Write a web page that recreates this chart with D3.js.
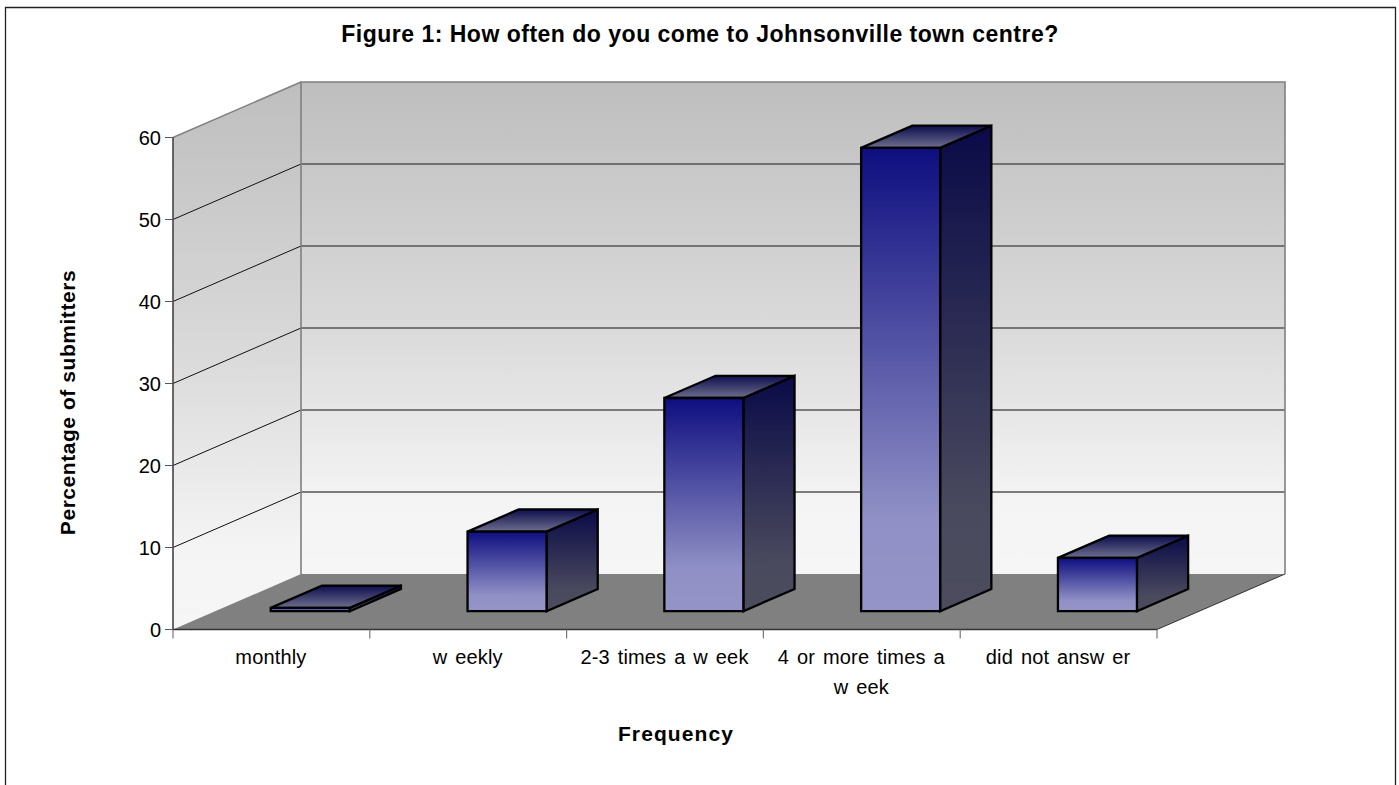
<!DOCTYPE html>
<html><head><meta charset="utf-8">
<script src="https://cdnjs.cloudflare.com/ajax/libs/d3/7.8.5/d3.min.js"></script>
<style>html,body{margin:0;padding:0;background:#fff;overflow:hidden}svg{display:block}text{font-family:"Liberation Sans",Arial,sans-serif;fill:#000}</style>
</head><body><script>
const categories = ["monthly","w eekly","2-3 times a w eek","4 or more times a|w eek","did not answ er"];
const seriesValues = [0.4, 9.7, 26, 56.5, 6.5];
const yTicks = [0,10,20,30,40,50,60];
const titleText = "Figure 1: How often do you come to Johnsonville town centre?";
const xTitleText = "Frequency";
const yTitleText = "Percentage of submitters";

const W=1399,H=785;
const svg=d3.select("body").append("svg").attr("width",W).attr("height",H);
const defs=svg.append("defs");
function grad(id,stops){
  const g=defs.append("linearGradient").attr("id",id).attr("x1",0).attr("y1",0).attr("x2",0).attr("y2",1);
  stops.forEach(s=>g.append("stop").attr("offset",s[0]).attr("stop-color",s[1]));
}
const wallStops=[[0,"#bebebe"],[0.5,"#dadada"],[0.85,"#f4f4f4"],[1,"#f6f6f6"]];
grad("wall",wallStops);
grad("front",[[0,"#0e0e80"],[0.8,"#9090c6"],[1,"#9494c8"]]);
grad("side",[[0,"#0a0a48"],[0.8,"#4a4a5e"],[1,"#4c4c5e"]]);
grad("topf",[[0,"#0e0e4e"],[1,"#6e6e8e"]]);

// scales: x across the front of the floor, y up the front, z into the depth
const x=d3.scaleBand().domain(categories).range([173,1157]);
const y=d3.scaleLinear().domain([0,60]).range([629.5,137.5]);
const zx=d3.scaleLinear().domain([0,1]).range([0,128]);
const zy=d3.scaleLinear().domain([0,1]).range([0,-55.5]);
const P=(px,py,z)=>[px+zx(z),py+zy(z)];
const line=d3.line();
const poly=pts=>line(pts)+"Z";
const x0=x.range()[0],x1=x.range()[1];

// border
svg.append("path").attr("d",`M5.5,${H+5}V7.5H1395.5V${H+5}`).attr("fill","none").attr("stroke","#222").attr("stroke-width",1.3);

// walls
svg.append("path").attr("d",poly([P(x0,y(60),1),P(x1,y(60),1),P(x1,y(0),1),P(x0,y(0),1)])).attr("fill","url(#wall)");
const sideWall=[P(x0,y(60),0),P(x0,y(60),1),P(x0,y(0),1),P(x0,y(0),0)];
const sg=defs.append("linearGradient").attr("id","wallSide").attr("gradientUnits","userSpaceOnUse")
  .attr("x1",0).attr("x2",0).attr("y1",P(x0,y(60),1)[1]).attr("y2",y(0));
wallStops.forEach(s=>sg.append("stop").attr("offset",s[0]).attr("stop-color",s[1]));
svg.append("path").attr("d",poly(sideWall)).attr("fill","url(#wallSide)");
svg.append("path").attr("d",poly([P(x0,y(0),0),P(x1,y(0),0),P(x1,y(0),1),P(x0,y(0),1)])).attr("fill","#808080");

// gridlines
yTicks.filter(v=>v>0&&v<60).forEach(v=>{
  svg.append("path").attr("d",line([P(x0,y(v),0),P(x0,y(v),1)])).attr("fill","none").attr("stroke","#111").attr("stroke-width",1);
  svg.append("path").attr("d",line([P(x0,y(v),1),P(x1,y(v),1)])).attr("fill","none").attr("stroke","#555").attr("stroke-width",1.5);
});
// wall outlines
svg.append("path").attr("d",line([P(x0,y(0),1),P(x0,y(60),1),P(x1,y(60),1),P(x1,y(0),1)])).attr("fill","none").attr("stroke","#808080").attr("stroke-width",1.6);
svg.append("path").attr("d",line([P(x0,y(60),0),P(x0,y(60),1)])).attr("fill","none").attr("stroke","#808080").attr("stroke-width",1.4);
svg.append("path").attr("d",line([P(x1,y(0),0),P(x1,y(0),1)])).attr("fill","none").attr("stroke","#333").attr("stroke-width",1);

// bars
const zFront=0.33,zBack=0.73;
const barW=79;
const barX=c=>x(c)+x.bandwidth()/2-barW/2-3.4;
categories.forEach((c,i)=>{
  const l=barX(c),r=l+barW,v=seriesValues[i];
  const g=svg.append("g").attr("stroke","#000").attr("stroke-width",2.3).attr("stroke-linejoin","miter");
  const A=(px,val,z)=>P(px,y(val),z);
  g.append("path").attr("d",poly([A(r,0,zFront),A(r,v,zFront),A(r,v,zBack),A(r,0,zBack)])).attr("fill","url(#side)");
  g.append("path").attr("d",poly([A(l,v,zFront),A(r,v,zFront),A(r,v,zBack),A(l,v,zBack)])).attr("fill","url(#topf)");
  g.append("path").attr("d",poly([A(l,0,zFront),A(r,0,zFront),A(r,v,zFront),A(l,v,zFront)])).attr("fill","url(#front)");
});

// axes
const axisG=svg.append("g");
axisG.append("path").attr("d",line([[x0,y(60)],[x0,y(0)]])).attr("stroke","#444").attr("stroke-width",1.6).attr("fill","none");
axisG.append("path").attr("d",line([[x0,y(0)],[x1,y(0)]])).attr("stroke","#333").attr("stroke-width",1.4).attr("fill","none");
yTicks.forEach(v=>{
  axisG.append("path").attr("d",line([[x0-8,y(v)],[x0,y(v)]])).attr("stroke","#555").attr("stroke-width",1).attr("fill","none");
  axisG.append("text").attr("x",x0-12).attr("y",y(v)+7).attr("text-anchor","end").attr("font-size",20).text(v);
});
const edges=[...categories.map(c=>x(c)),x1];
edges.forEach(e=>axisG.append("path").attr("d",line([[e,y(0)],[e,y(0)+9]])).attr("stroke","#777").attr("stroke-width",1.2).attr("fill","none"));
categories.forEach(c=>{
  const cx=x(c)+x.bandwidth()/2;
  c.split("|").forEach((s,j)=>axisG.append("text").attr("x",cx-0.5).attr("y",664+j*30).attr("text-anchor","middle")
    .attr("font-size",20).attr("letter-spacing",0.15).attr("word-spacing",2.2).text(s));
});

// titles
svg.append("text").attr("x",700).attr("y",41.5).attr("text-anchor","middle").attr("font-size",23).attr("letter-spacing",0.5).attr("font-weight","bold").text(titleText);
svg.append("text").attr("x",676).attr("y",741).attr("text-anchor","middle").attr("font-size",21).attr("letter-spacing",1.1).attr("font-weight","bold").text(xTitleText);
svg.append("text").attr("transform","translate(74.5,402.5) rotate(-90)").attr("text-anchor","middle").attr("font-size",21).attr("letter-spacing",0.55).attr("font-weight","bold").text(yTitleText);
</script></body></html>
